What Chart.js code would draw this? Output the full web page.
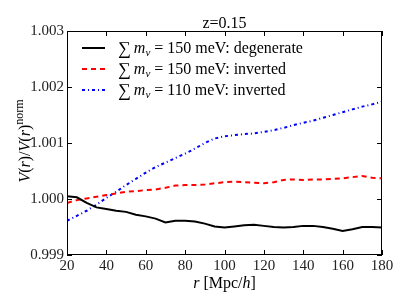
<!DOCTYPE html>
<html><head><meta charset="utf-8">
<script src="https://cdn.jsdelivr.net/npm/chart.js@4/dist/chart.umd.min.js"></script>
<style>html,body{margin:0;padding:0;background:#fff}#wrap{width:407px;height:305px}</style>
</head><body><div id="wrap"><canvas id="c" width="407" height="305"></canvas></div>
<script>
const rValues = [20,25,30,35,40,45,50,55,60,65,70,75,80,85,90,95,100,105,110,115,120,125,130,135,140,145,150,155,160,165,170,175,180];
const degenerate150 = [1.00005,1.00003,0.99993,0.99985,0.99982,0.99979,0.99977,0.99972,0.99969,0.99965,0.99958,0.99961,0.99961,0.99960,0.99956,0.99951,0.99949,0.99951,0.99953,0.99954,0.99952,0.99950,0.99949,0.99950,0.99952,0.99952,0.99950,0.99947,0.99943,0.99946,0.99950,0.99950,0.99949];
const inverted150 = [0.99993,0.99998,1.00001,1.00004,1.00007,1.00010,1.00013,1.00014,1.00016,1.00017,1.00020,1.00024,1.00025,1.00025,1.00026,1.00028,1.00030,1.00031,1.00030,1.00029,1.00028,1.00030,1.00034,1.00035,1.00034,1.00035,1.00035,1.00036,1.00037,1.00039,1.00041,1.00038,1.00037];
const inverted110 = [0.99961,0.99970,0.99979,0.99990,1.00002,1.00013,1.00025,1.00036,1.00047,1.00057,1.00065,1.00073,1.00081,1.00090,1.00100,1.00108,1.00112,1.00114,1.00116,1.00117,1.00120,1.00123,1.00127,1.00132,1.00136,1.00140,1.00145,1.00150,1.00155,1.00160,1.00165,1.00169,1.00174];
const seriesMass = ["150","150","110"];
const seriesKind = ["degenerate","inverted","inverted"];
const xTicks = [20,40,60,80,100,120,140,160,180];
const yTicks = [0.999,1.000,1.001,1.002,1.003];
const titleText = "z=0.15";

const SERIF = "'Liberation Serif','DejaVu Serif',serif";
const pts = a => a.map((v,i)=>({x:rValues[i], y:v}));
const styles = [
  {color:'#000000', dash:[]},
  {color:'#ff0000', dash:[5,4]},
  {color:'#0000ff', dash:[3,3,1,3]}
];
const datasets = [degenerate150, inverted150, inverted110].map((d,i)=>({
  data: pts(d), borderColor: styles[i].color, borderDash: styles[i].dash,
  borderWidth: 2, pointRadius: 0, tension: 0, fill:false
}));

const decor = {
  id:'decor',
  afterDraw(chart){
    const ctx = chart.ctx, ca = chart.chartArea, xs = chart.scales.x, ys = chart.scales.y;
    ctx.save();
    ctx.strokeStyle = '#000'; ctx.lineWidth = 1;
    ctx.strokeRect(Math.round(ca.left)+0.5, Math.round(ca.top)+0.5, Math.round(ca.right-ca.left)-1, Math.round(ca.bottom-ca.top)-1);
    ctx.beginPath();
    xTicks.forEach(t=>{ const x=Math.round(xs.getPixelForValue(t))+0.5;
      ctx.moveTo(x,ca.bottom); ctx.lineTo(x,ca.bottom-5);
      ctx.moveTo(x,ca.top); ctx.lineTo(x,ca.top+5); });
    yTicks.forEach(t=>{ const y=Math.round(ys.getPixelForValue(t))+0.5;
      ctx.moveTo(ca.left,y); ctx.lineTo(ca.left+5,y);
      ctx.moveTo(ca.right,y); ctx.lineTo(ca.right-5,y); });
    ctx.stroke();
    ctx.fillStyle = '#000';
    ctx.font = "16px "+SERIF; ctx.textAlign='center'; ctx.textBaseline='alphabetic';
    ctx.fillText(titleText, (ca.left+ca.right)/2, 28);
    let xl = [["r","italic 16px "+SERIF],[" [Mpc/","16px "+SERIF],["h","italic 16px "+SERIF],["]","16px "+SERIF]];
    let w=0; xl.forEach(p=>{ctx.font=p[1]; w+=ctx.measureText(p[0]).width;});
    let x0=(ca.left+ca.right)/2 - w/2; ctx.textAlign='left';
    xl.forEach(p=>{ctx.font=p[1]; ctx.fillText(p[0],x0,288); x0+=ctx.measureText(p[0]).width;});
    ctx.save();
    ctx.translate(30, 141); ctx.rotate(-Math.PI/2);
    let yl = [["V","italic 16px "+SERIF,0],["(","16px "+SERIF,0],["r","italic 16px "+SERIF,0],[")/","16px "+SERIF,0],["V","italic 16px "+SERIF,0],["(","16px "+SERIF,0],["r","italic 16px "+SERIF,0],[")","16px "+SERIF,0],["norm","12px "+SERIF,-7]];
    w=0; yl.forEach(p=>{ctx.font=p[1]; w+=ctx.measureText(p[0]).width;});
    x0=-w/2;
    yl.forEach(p=>{ctx.font=p[1]; ctx.fillText(p[0],x0,p[2]); x0+=ctx.measureText(p[0]).width;});
    ctx.restore();
    const rows=[48,69,90];
    rows.forEach((ry,i)=>{
      ctx.strokeStyle=styles[i].color; ctx.lineWidth=2; ctx.setLineDash(styles[i].dash);
      ctx.beginPath(); ctx.moveTo(82,ry); ctx.lineTo(105,ry); ctx.stroke(); ctx.setLineDash([]);
      let x=118, by=ry+5;
      ctx.font="18px "+SERIF; ctx.fillText("∑",x,by+1); x+=ctx.measureText("∑").width+3;
      ctx.font="italic 16px "+SERIF; ctx.fillText("m",x,by); x+=ctx.measureText("m").width;
      ctx.font="italic 11px "+SERIF; ctx.fillText("ν",x,by+3); x+=ctx.measureText("ν").width+4;
      ctx.font="16px "+SERIF; ctx.fillText("= "+seriesMass[i]+" meV: "+seriesKind[i],x,by);
    });
    ctx.restore();
  }
};

new Chart(document.getElementById('c'), {
  type:'line',
  data:{datasets},
  options:{
    responsive:false, animation:false, devicePixelRatio:1,
    layout:{padding:{left:0,right:25,top:31,bottom:0}},
    plugins:{legend:{display:false}, tooltip:{enabled:false}},
    scales:{
      x:{type:'linear', min:20, max:180,
        afterFit(s){s.height=50;},
        afterBuildTicks(s){s.ticks=xTicks.map(v=>({value:v}));},
        grid:{display:false, drawTicks:false}, border:{display:false},
        ticks:{padding:2, font:{family:SERIF,size:15}, color:'#222', maxRotation:0, callback:v=>String(v)}},
      y:{type:'linear', min:0.999, max:1.003,
        afterFit(s){s.width=67;},
        afterBuildTicks(s){s.ticks=yTicks.map(v=>({value:v}));},
        grid:{display:false, drawTicks:false}, border:{display:false},
        ticks:{padding:3, font:{family:SERIF,size:15}, color:'#222', callback:v=>Number(v).toFixed(3)}}
    }
  },
  plugins:[decor]
});
</script></body></html>
